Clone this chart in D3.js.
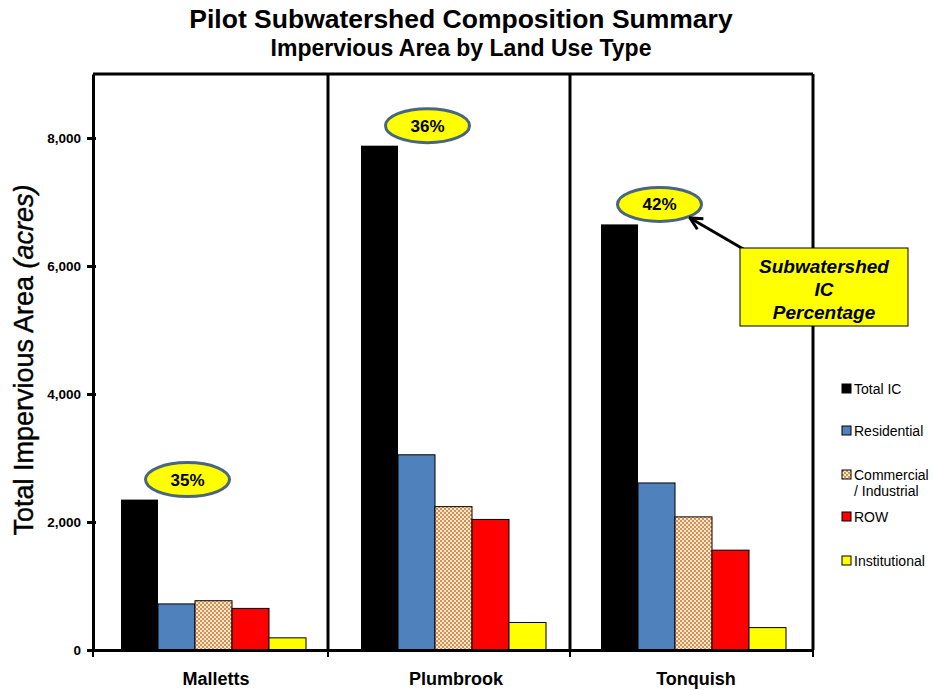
<!DOCTYPE html>
<html><head><meta charset="utf-8">
<script src="https://cdn.jsdelivr.net/npm/d3@7"></script>
<style>body{margin:0;background:#fff}svg{display:block}text{font-family:"Liberation Sans",Arial,sans-serif}</style>
</head><body>
<svg id="c" width="933" height="690"></svg>
<script>
const categories = ["Malletts", "Plumbrook", "Tonquish"];
const seriesNames = ["Total IC", "Residential", "Commercial / Industrial", "ROW", "Institutional"];
const totalIC = [2350, 7880, 6650];
const residential = [720, 3050, 2610];
const commercial = [770, 2240, 2080];
const row = [650, 2040, 1560];
const institutional = [190, 430, 350];
const icPercent = ["35%", "36%", "42%"];
const yTicks = [0, 2000, 4000, 6000, 8000];
const seriesColors = ["#000000", "#4f81bd", "url(#checker)", "#ff0000", "#ffff00"];

const series = [totalIC, residential, commercial, row, institutional];
const svg = d3.select("#c");
const L = 93, R = 813, T = 74, B = 650;

const defs = svg.append("defs");
const pat = defs.append("pattern").attr("id","checker").attr("patternUnits","userSpaceOnUse").attr("width",4).attr("height",4);
pat.append("rect").attr("width",4).attr("height",4).attr("fill","#fbe8d2");
pat.append("rect").attr("width",2).attr("height",2).attr("fill","#d8904e");
pat.append("rect").attr("x",2).attr("y",2).attr("width",2).attr("height",2).attr("fill","#d8904e");
defs.append("marker").attr("id","arr").attr("viewBox","0 0 10 10").attr("refX",9).attr("refY",5)
  .attr("markerWidth",5).attr("markerHeight",5).attr("orient","auto")
  .append("path").attr("d","M1,1 L9,5 L1,9").attr("fill","none").attr("stroke","#000").attr("stroke-width",2);

const x = d3.scaleBand().domain(categories).range([L, R]).paddingInner(0).paddingOuter(0);
const xs = d3.scaleBand().domain(d3.range(seriesNames.length)).range([28, 28 + 185]);
const y = d3.scaleLinear().domain([0, 9000]).range([B, T]);

// bars
categories.forEach((c, ci) => {
  series.forEach((s, si) => {
    svg.append("rect")
      .attr("x", x(c) + xs(si)).attr("width", xs.bandwidth())
      .attr("y", y(s[ci])).attr("height", y(0) - y(s[ci]))
      .attr("fill", seriesColors[si])
      .attr("stroke", si === 0 ? "none" : "#000").attr("stroke-width", 1);
  });
});

// frame & dividers
svg.append("line").attr("x1", L).attr("x2", R).attr("y1", T).attr("y2", T).attr("stroke","#000").attr("stroke-width",3);
const divs = [x(categories[1]) - 5, x(categories[2]) - 3];
divs.forEach(px => {
  svg.append("line").attr("x1", px).attr("x2", px).attr("y1", T).attr("y2", B).attr("stroke","#000").attr("stroke-width",3);
});
svg.append("line").attr("x1", R).attr("x2", R).attr("y1", T).attr("y2", B).attr("stroke","#000").attr("stroke-width",3);

// y axis
const yAxis = svg.append("g").attr("transform", `translate(${L},0)`)
  .call(d3.axisLeft(y).tickValues(yTicks).tickFormat(d3.format(",")).tickSize(6).tickSizeOuter(0));
yAxis.select(".domain").attr("stroke-width",3);
yAxis.selectAll(".tick line").attr("stroke-width",3).attr("x2",-6).attr("x1",3);
yAxis.selectAll(".tick text").attr("font-size",13.5).attr("font-weight","bold").attr("x",-12);

// x axis
const xAxis = svg.append("g").attr("transform", `translate(0,${B})`)
  .call(d3.axisBottom(x).tickSize(0).tickSizeOuter(0));
xAxis.select(".domain").attr("stroke-width",3);
xAxis.selectAll(".tick text").attr("font-size",18).attr("font-weight","bold").attr("dy","1.75em")
  .attr("transform","translate(3,0)");
[L, ...divs, R].forEach(px => {
  svg.append("line").attr("x1",px).attr("x2",px).attr("y1",B).attr("y2",B+7).attr("stroke","#000").attr("stroke-width",2);
});

// ellipses
categories.forEach((c, ci) => {
  const cx = x(c) + xs(0) + xs.bandwidth()/2 + (ci === 2 ? 40 : 48);
  const cy = y(totalIC[ci]) - 20;
  svg.append("ellipse").attr("cx", cx).attr("cy", cy).attr("rx", 42).attr("ry", 17)
    .attr("fill","#ffff00").attr("stroke","#4a6580").attr("stroke-width",3);
  svg.append("text").attr("x", cx).attr("y", cy + 6).attr("text-anchor","middle")
    .attr("font-size",17).attr("font-weight","bold").text(icPercent[ci]);
});

// annotation
svg.append("line").attr("x1",745).attr("y1",250).attr("x2",690).attr("y2",218)
  .attr("stroke","#000").attr("stroke-width",3).attr("marker-end","url(#arr)");
svg.append("rect").attr("x",740).attr("y",248).attr("width",168).attr("height",78)
  .attr("fill","#ffff00").attr("stroke","#000").attr("stroke-width",1);
["Subwatershed","IC","Percentage"].forEach((t,i) => {
  svg.append("text").attr("x",824).attr("y",273 + i*23).attr("text-anchor","middle")
    .attr("font-size",19).attr("font-weight","bold").attr("font-style","italic").text(t);
});

// legend
const legY = [389, 431, 475, 517, 561];
seriesNames.forEach((n, i) => {
  svg.append("rect").attr("x",842).attr("y",legY[i]-5).attr("width",9).attr("height",9)
    .attr("fill",seriesColors[i]).attr("stroke","#000").attr("stroke-width",1);
  if (i === 2) {
    svg.append("text").attr("x",854).attr("y",legY[i]+5).attr("font-size",14).text("Commercial");
    svg.append("text").attr("x",854).attr("y",legY[i]+21).attr("font-size",14).text("/ Industrial");
  } else {
    svg.append("text").attr("x",854).attr("y",legY[i]+5).attr("font-size",14).text(n);
  }
});

// titles
svg.append("text").attr("x",461).attr("y",28).attr("text-anchor","middle").attr("font-size",26.5).attr("font-weight","bold")
  .text("Pilot Subwatershed Composition Summary");
svg.append("text").attr("x",461).attr("y",56).attr("text-anchor","middle").attr("font-size",23).attr("font-weight","bold")
  .text("Impervious Area by Land Use Type");
const yt = svg.append("text").attr("transform","translate(33,360) rotate(-90)").attr("text-anchor","middle").attr("font-size",27)
  .attr("stroke","#000").attr("stroke-width",0.4);
yt.append("tspan").text("Total Impervious Area ");
yt.append("tspan").attr("font-style","italic").text("(acres)");
</script>
</body></html>
